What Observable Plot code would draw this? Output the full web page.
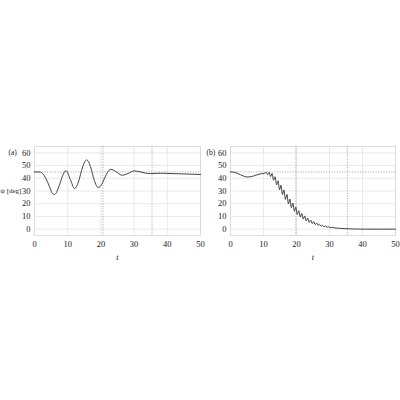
<!DOCTYPE html>
<html>
<head>
<meta charset="utf-8">
<script src="https://cdn.jsdelivr.net/npm/d3@7"></script>
<script src="https://cdn.jsdelivr.net/npm/@observablehq/plot@0.6"></script>
<style>
  html, body { margin: 0; padding: 0; background: #fff; width: 400px; height: 400px; overflow: hidden; }
  #wrap { position: relative; width: 400px; height: 400px; }
  .panel { position: absolute; top: 140px; }
  .panel svg, .panel svg text { font-family: "Liberation Serif", serif !important; }
  .panel [aria-label="x-axis label"] text { font-style: italic; }
</style>
</head>
<body>
<div id="wrap">
  <div class="panel" id="pa" style="left:0px"></div>
  <div class="panel" id="pb" style="left:200px"></div>
</div>
<script>
// ---- data ----
const xTicks = [0, 10, 20, 30, 40, 50];
const yTicks = [0, 10, 20, 30, 40, 50, 60];
const refY = 45;

// panel (a)
const tA = [0, 1, 1.8, 2.5, 3.5, 4.5, 5.3, 6, 7.5, 8.5, 9.5, 10.8, 12.1, 13.2, 14.5, 15.7, 17, 18, 19.2, 20.2, 21.2, 22, 23, 24.5, 26.4, 28.2, 30, 31.5, 33, 35, 37, 38.5, 40, 44, 50];
const psiA = [45, 45, 44.8, 43.6, 39.5, 33.5, 28.6, 27.2, 34.5, 42.3, 46, 39, 31.9, 36.9, 48.9, 54.5, 48, 38.4, 32.7, 35, 40.6, 44.7, 47, 45.3, 42.4, 43.8, 45.8, 45.3, 44.3, 43.7, 43.9, 44, 43.8, 43.5, 43];
const vA = [20.6, 35.4];

// panel (b)
const tB = [0, 1, 2, 3, 4, 5, 6, 7, 8, 9, 10, 10.4,
  10.80, 11.25, 11.70, 12.15, 12.60, 13.05, 13.50, 13.95, 14.40, 14.85,
  15.30, 15.75, 16.20, 16.65, 17.10, 17.55, 18.00, 18.45, 18.90, 19.35,
  19.80, 20.25, 20.70, 21.15, 21.60, 22.05, 22.50, 22.95, 23.40, 23.85,
  24.30, 24.75, 25.20, 25.65, 26.10, 26.55, 27.00, 27.45, 27.90, 28.35,
  28.80, 29.25, 29.70, 30.15, 30.60, 31.5, 33, 35, 37, 39, 41, 50];
const psiB = [45, 44.8, 44, 42.8, 41.7, 41, 41.2, 41.8, 42.7, 43.4, 43.8, 44,
  44.8, 42.8, 44.7, 41.4, 43.8, 38.5, 41.2, 34.9, 38.0, 31.0,
  34.5, 27.2, 30.8, 23.4, 27.3, 19.9, 23.7, 16.9, 20.5, 14.1,
  17.3, 11.5, 14.5, 9.6, 12.3, 7.9, 10.4, 6.5, 8.7, 5.3,
  7.2, 4.4, 6.0, 3.6, 4.8, 2.9, 3.8, 2.25, 3.0, 1.8,
  2.4, 1.45, 1.9, 1.15, 1.4, 1.0, 0.65, 0.35, 0.15, 0.05, 0, 0];
const vB = [19.8, 35.4];

function panel({t, psi, vlines, width, marginLeft, marginRight, tag, tagDx, ylabel}) {
  const data = t.map((d, i) => ({t: d, psi: psi[i]}));
  const marks = [
    Plot.gridX(xTicks, {stroke: "#e4e4e4", strokeOpacity: 1, strokeWidth: 0.8}),
    Plot.gridY(yTicks, {stroke: "#e4e4e4", strokeOpacity: 1, strokeWidth: 0.8}),
    Plot.frame({stroke: "#d8d8d8", strokeWidth: 0.8}),
    Plot.ruleX(vlines, {stroke: "#9a9a9a", strokeWidth: 0.8, strokeDasharray: "1.2,1.4"}),
    Plot.ruleY([refY], {stroke: "#9a9a9a", strokeWidth: 0.8, strokeDasharray: "1.2,1.4"}),
    Plot.line(data, {x: "t", y: "psi", curve: "monotone-x", stroke: "#2e2e2e", strokeWidth: 0.9}),
    Plot.axisX(xTicks, {tickSize: 0, tickPadding: 5, fontSize: 8.5, label: "t", labelAnchor: "center", labelOffset: 24, labelArrow: "none"}),
    Plot.axisY(yTicks, {tickSize: 0, tickPadding: 4, fontSize: 8.5, label: null}),
    Plot.text([tag], {frameAnchor: "top-left", dx: tagDx, dy: 3, textAnchor: "start", fontSize: 7.5})
  ];
  if (ylabel) {
    marks.push(Plot.text([30], {y: d => d, text: () => ylabel, frameAnchor: "left", dx: -34, textAnchor: "start", fontSize: 7}));
  }
  return Plot.plot({
    width, height: 120,
    marginTop: 6, marginBottom: 25, marginLeft, marginRight,
    style: {fontFamily: "'Liberation Serif', serif", color: "#222", background: "transparent", overflow: "visible"},
    x: {domain: [0, 50]},
    y: {domain: [-5, 65]},
    marks
  });
}

document.getElementById("pa").appendChild(panel({t: tA, psi: psiA, vlines: vA, width: 202, marginLeft: 34, marginRight: 2, tag: "(a)", tagDx: -26, ylabel: "ψ [deg]"}));
document.getElementById("pb").appendChild(panel({t: tB, psi: psiB, vlines: vB, width: 200, marginLeft: 30, marginRight: 5, tag: "(b)", tagDx: -24, ylabel: null}));
</script>
</body>
</html>
